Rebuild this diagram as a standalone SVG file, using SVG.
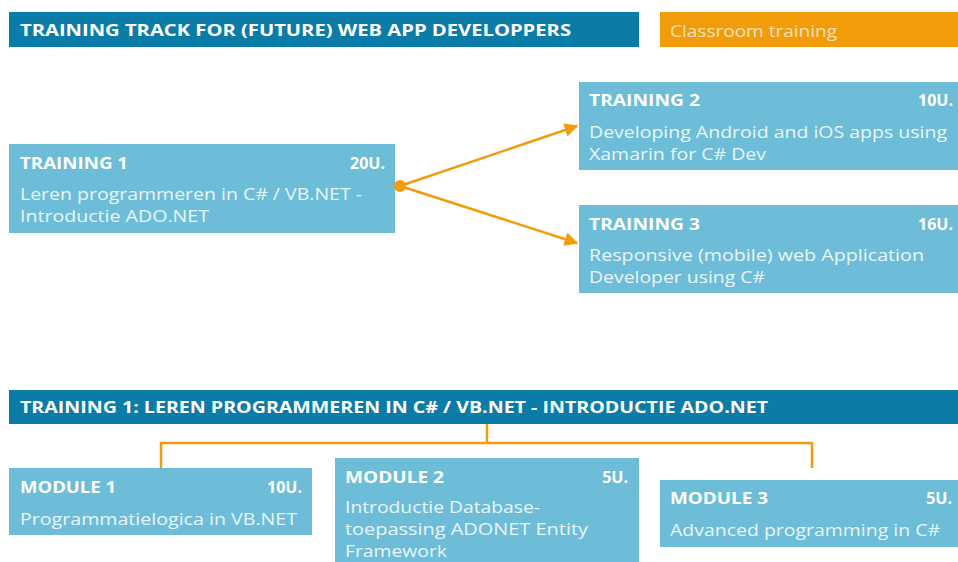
<svg xmlns="http://www.w3.org/2000/svg" width="958" height="562" viewBox="0 0 958 562">
<defs>
<style>
.hdr{fill:#0b7ba7}
.box{fill:#6dbdd8}
.org{fill:#f29c0c}
.t{font-family:"Open Sans","Liberation Sans",sans-serif;font-weight:700;font-size:16px;fill:#ffffff}
.d{font-family:"Open Sans","Liberation Sans",sans-serif;font-weight:400;font-size:16.5px;fill:#e8f5fa}
.c{fill:none;stroke:#f29c0c;stroke-width:2.5}
</style>
<marker id="ah" viewBox="0 0 10 10" refX="9" refY="5" markerWidth="5.5" markerHeight="5.5" orient="auto" markerUnits="strokeWidth">
<path d="M0,0 L10,5 L0,10 z" fill="#f29c0c"/>
</marker>
</defs>
<rect width="958" height="562" fill="#ffffff"/>

<g id="header1">
<rect class="hdr" x="9" y="12" width="630" height="35"/>
<text class="t" x="20" y="36" textLength="551" lengthAdjust="spacingAndGlyphs">TRAINING TRACK FOR (FUTURE) WEB APP DEVELOPPERS</text>
</g>
<g id="legend">
<rect class="org" x="660" y="12" width="298" height="35"/>
<text class="d" x="670" y="37" textLength="167" lengthAdjust="spacingAndGlyphs" style="fill:#fde3b8">Classroom training</text>
</g>

<g id="training1">
<rect class="box" x="9" y="144" width="386" height="89"/>
<text class="t" x="20" y="169" textLength="108" lengthAdjust="spacingAndGlyphs">TRAINING 1</text>
<text class="t" x="385" y="169" text-anchor="end">20U.</text>
<text class="d" x="20" y="200" textLength="342" lengthAdjust="spacingAndGlyphs">Leren programmeren in C# / VB.NET -</text>
<text class="d" x="20" y="222" textLength="189" lengthAdjust="spacingAndGlyphs">Introductie ADO.NET</text>
</g>

<g id="training2">
<rect class="box" x="579" y="82" width="379" height="88"/>
<text class="t" x="589" y="106" textLength="111" lengthAdjust="spacingAndGlyphs">TRAINING 2</text>
<text class="t" x="953" y="106" text-anchor="end">10U.</text>
<text class="d" x="589" y="138" textLength="358" lengthAdjust="spacingAndGlyphs">Developing Android and iOS apps using</text>
<text class="d" x="589" y="160" textLength="177" lengthAdjust="spacingAndGlyphs">Xamarin for C# Dev</text>
</g>

<g id="training3">
<rect class="box" x="579" y="205" width="379" height="88"/>
<text class="t" x="589" y="230" textLength="111" lengthAdjust="spacingAndGlyphs">TRAINING 3</text>
<text class="t" x="953" y="230" text-anchor="end">16U.</text>
<text class="d" x="589" y="261" textLength="335" lengthAdjust="spacingAndGlyphs">Responsive (mobile) web Application</text>
<text class="d" x="589" y="283" textLength="176" lengthAdjust="spacingAndGlyphs">Developer using C#</text>
</g>

<g id="header2">
<rect class="hdr" x="9" y="390" width="949" height="34"/>
<text class="t" x="20" y="413" textLength="748" lengthAdjust="spacingAndGlyphs">TRAINING 1: LEREN PROGRAMMEREN IN C# / VB.NET - INTRODUCTIE ADO.NET</text>
</g>

<g id="connectors">
<circle cx="400" cy="186" r="6" fill="#f29c0c"/>
<line class="c" x1="400" y1="186" x2="577" y2="126" marker-end="url(#ah)"/>
<line class="c" x1="400" y1="186" x2="577" y2="243" marker-end="url(#ah)"/>
<polyline class="c" points="487,424 487,443"/>
<polyline class="c" points="161,468 161,443 812,443 812,468"/>
</g>

<g id="module1">
<rect class="box" x="9" y="468" width="303" height="67"/>
<text class="t" x="20" y="493" textLength="96" lengthAdjust="spacingAndGlyphs">MODULE 1</text>
<text class="t" x="302" y="493" text-anchor="end">10U.</text>
<text class="d" x="20" y="525" textLength="277" lengthAdjust="spacingAndGlyphs">Programmatielogica in VB.NET</text>
</g>

<g id="module2">
<rect class="box" x="335" y="458" width="304" height="110"/>
<text class="t" x="345" y="483" textLength="99" lengthAdjust="spacingAndGlyphs">MODULE 2</text>
<text class="t" x="628" y="483" text-anchor="end">5U.</text>
<text class="d" x="345" y="513" textLength="195" lengthAdjust="spacingAndGlyphs">Introductie Database-</text>
<text class="d" x="345" y="535" textLength="243" lengthAdjust="spacingAndGlyphs">toepassing ADONET Entity</text>
<text class="d" x="345" y="557" textLength="102" lengthAdjust="spacingAndGlyphs">Framework</text>
</g>

<g id="module3">
<rect class="box" x="660" y="480" width="298" height="67"/>
<text class="t" x="670" y="504" textLength="98" lengthAdjust="spacingAndGlyphs">MODULE 3</text>
<text class="t" x="952" y="504" text-anchor="end">5U.</text>
<text class="d" x="670" y="536" textLength="270" lengthAdjust="spacingAndGlyphs">Advanced programming in C#</text>
</g>
</svg>
